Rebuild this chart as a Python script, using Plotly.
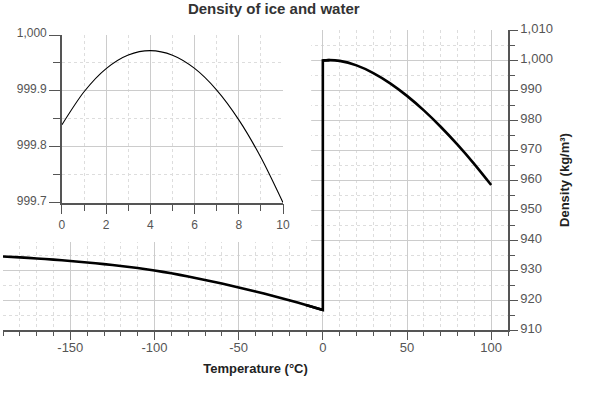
import plotly.graph_objects as go

# ---- data ----
ice_temp = [-190, -180, -170, -160, -150, -140, -130, -120, -110, -100,
            -90, -80, -70, -60, -50, -40, -30, -20, -10, 0]
ice_density = [934.5, 934.2, 933.85, 933.45, 933.0, 932.5, 931.95, 931.35, 930.65, 929.85,
               928.9, 927.85, 926.7, 925.5, 924.2, 922.85, 921.4, 919.9, 918.35, 916.7]

water_temp = [0, 4, 10, 20, 30, 40, 50, 60, 70, 80, 90, 100]
water_density = [999.84, 999.97, 999.70, 998.21, 995.65, 992.22, 988.04,
                 983.20, 977.76, 971.79, 965.31, 958.35]

inset_temp = [0, 1, 2, 3, 4, 5, 6, 7, 8, 9, 10]
inset_density = [999.8395, 999.8985, 999.9399, 999.9642, 999.9720, 999.9638,
                 999.9402, 999.9015, 999.8482, 999.7808, 999.7000]

main_xticks = [-150, -100, -50, 0, 50, 100]
main_xticklabels = ["-150", "-100", "-50", "0", "50", "100"]
inset_yticks = [999.7, 999.8, 999.9, 1000.0]
inset_yticklabels = ["999.7", "999.8", "999.9", "1,000"]
inset_xticks = [0, 2, 4, 6, 8, 10]

W, H = 590, 393
L, R, T, B = 0, 82, 30, 63
pw, ph = W - L - R, H - T - B

def dx(px):
    return (px - L) / pw

def dy(py):
    return (H - B - py) / ph

FONT = "Liberation Sans, Arial, sans-serif"
AX = "#555555"
GRID = "#cccccc"
MINOR = "#dddddd"
LW = 2.6

fig = go.Figure()

# ice branch
fig.add_trace(go.Scatter(
    x=ice_temp, y=ice_density,
    mode="lines", line=dict(color="black", width=LW, shape="spline", smoothing=0.6),
    xaxis="x", yaxis="y", hoverinfo="skip", showlegend=False))

# jump at 0 °C (joins ice end to water start)
fig.add_trace(go.Scatter(
    x=ice_temp[-2:] + water_temp[:2], y=ice_density[-2:] + water_density[:2],
    mode="lines", line=dict(color="black", width=LW),
    xaxis="x", yaxis="y", hoverinfo="skip", showlegend=False))

# water branch
fig.add_trace(go.Scatter(
    x=water_temp, y=water_density,
    mode="lines", line=dict(color="black", width=LW, shape="spline", smoothing=0.8),
    xaxis="x", yaxis="y", hoverinfo="skip", showlegend=False))

# blank cover subplot (white background behind inset)
fig.add_trace(go.Scatter(x=[None], y=[None], mode="lines",
                         xaxis="x2", yaxis="y2", showlegend=False, hoverinfo="skip"))

# inset
fig.add_trace(go.Scatter(
    x=inset_temp, y=inset_density, mode="lines",
    line=dict(color="black", width=1.1, shape="spline", smoothing=0.8),
    xaxis="x3", yaxis="y3", hoverinfo="skip", showlegend=False))

fig.update_layout(
    width=W, height=H,
    margin=dict(l=L, r=R, t=T, b=B, pad=0),
    paper_bgcolor="white", plot_bgcolor="white",
    font=dict(family=FONT, color="#555555", size=13),
    title=dict(text="<b>Density of ice and water</b>", x=0.464, xanchor="center",
               y=1 - 9 / H, yanchor="middle", yref="container",
               font=dict(size=15, color="#333333", family=FONT)),
    xaxis=dict(
        domain=[0, 1], range=[-190, 110], anchor="y",
        tickvals=main_xticks, ticktext=main_xticklabels,
        ticks="outside", ticklen=8, tickcolor=AX, tickwidth=1.3,
        ticklabelstandoff=-3,
        showline=True, linecolor=AX, linewidth=1.5,
        showgrid=True, gridcolor=GRID, gridwidth=1, zeroline=False,
        tickfont=dict(size=13, color="#555555"),
        minor=dict(dtick=10, tick0=0, ticks="outside", ticklen=4, tickcolor=AX, tickwidth=1.3,
                   showgrid=True, gridcolor=MINOR, griddash="dot", gridwidth=1),
        title=dict(text="<b>Temperature (°C)</b>", standoff=10,
                   font=dict(size=13, color="#222222")),
    ),
    yaxis=dict(
        domain=[0, 1], range=[910, 1010], anchor="x", side="right",
        dtick=10, tick0=0, ticks="outside", ticklen=8, tickcolor=AX, tickwidth=1.3,
        tickformat=",d", ticklabelshift=-2,
        showline=True, linecolor=AX, linewidth=1.5,
        showgrid=True, gridcolor=GRID, gridwidth=1, zeroline=False,
        tickfont=dict(size=13, color="#555555"),
        minor=dict(dtick=5, tick0=0, ticks="outside", ticklen=5, tickcolor=AX, tickwidth=1.3,
                   showgrid=True, gridcolor=MINOR, griddash="dot", gridwidth=1),
        title=dict(text="<b>Density (kg/m³)</b>", standoff=8,
                   font=dict(size=13, color="#222222")),
    ),
    xaxis2=dict(domain=[0, dx(310)], range=[0, 1], anchor="y2", visible=False),
    yaxis2=dict(domain=[dy(242), 1], range=[0, 1], anchor="x2", visible=False),
    xaxis3=dict(
        domain=[dx(59.3), dx(281.7)], range=[0, 10], anchor="y3",
        tickvals=inset_xticks, ticks="outside", ticklen=10, tickcolor=AX, tickwidth=1.3,
        showline=True, linecolor=AX, linewidth=1.5,
        showgrid=True, gridcolor=GRID, gridwidth=1, zeroline=False,
        tickfont=dict(size=12, color="#555555"),
        minor=dict(dtick=1, tick0=0, ticks="outside", ticklen=7, tickcolor=AX, tickwidth=1.3,
                   showgrid=True, gridcolor=MINOR, griddash="dot", gridwidth=1),
    ),
    yaxis3=dict(
        domain=[dy(202.7), dy(35)], range=[999.7, 1000.0], anchor="x3",
        tickvals=inset_yticks, ticktext=inset_yticklabels, ticklabelshift=-2,
        ticks="outside", ticklen=11, tickcolor=AX, tickwidth=1.3,
        showline=True, linecolor=AX, linewidth=1.5,
        showgrid=True, gridcolor=GRID, gridwidth=1, zeroline=False,
        tickfont=dict(size=12, color="#555555"),
        minor=dict(dtick=0.05, tick0=999.7, ticks="outside", ticklen=7, tickcolor=AX, tickwidth=1.3,
                   showgrid=True, gridcolor=MINOR, griddash="dot", gridwidth=1),
    ),
)

fig.write_html("out.html", config={"displayModeBar": False},
               post_script="document.body.style.margin='0';")
